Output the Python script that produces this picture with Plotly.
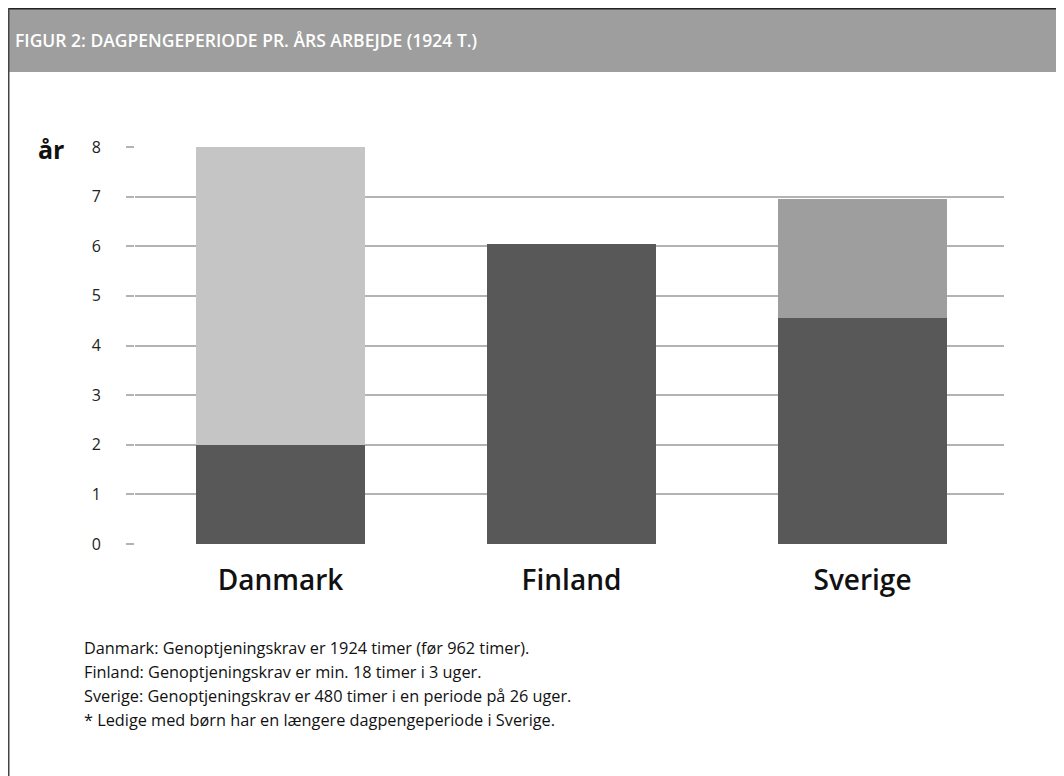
import plotly.graph_objects as go

categories = ["Danmark", "Finland", "Sverige"]
base_values = [2.0, 6.05, 4.55]
extra_values = [6.0, 0.0, 2.4]
base_color = "#585858"
extra_colors = ["#c4c5c4", "#c4c5c4", "#9d9e9d"]
y_ticks = [0, 1, 2, 3, 4, 5, 6, 7, 8]

title_text = "FIGUR 2: DAGPENGEPERIODE PR. ÅRS ARBEJDE (1924 T.)"
notes = [
    "Danmark: Genoptjeningskrav er 1924 timer (før 962 timer).",
    "Finland: Genoptjeningskrav er min. 18 timer i 3 uger.",
    "Sverige: Genoptjeningskrav er 480 timer i en periode på 26 uger.",
    "* Ledige med børn har en længere dagpengeperiode i Sverige.",
]

OFF = 8  # page body margin offset
W, H = 1064 - OFF, 776 - OFF
# plot area in reference pixels
RL, RR, RT, RB = 135, 1004, 146, 545
L, R, T, B = RL - OFF, RR - OFF, RT - OFF, RB - OFF
CAT_PX = 291.0  # pixel spacing of categories
x_range = [-0.5, -0.5 + (RR - RL) / CAT_PX]


def px(x):
    return (x - OFF - L) / (R - L)


def py(y):
    return (B - (y - OFF)) / (B - T)


fig = go.Figure()
fig.add_trace(go.Bar(x=categories, y=base_values, marker=dict(color=base_color, line=dict(width=0)),
                     width=0.58, hoverinfo="skip"))
fig.add_trace(go.Bar(x=categories, y=extra_values, marker=dict(color=extra_colors, line=dict(width=0)),
                     width=0.58, hoverinfo="skip"))

shapes = [
    dict(type="rect", xref="paper", yref="paper", x0=px(8), x1=px(1064), y0=py(72), y1=py(8),
         fillcolor="#9d9e9d", line=dict(width=0), layer="below"),
    dict(type="line", xref="paper", yref="paper", x0=px(8), x1=px(1064), y0=py(8.5), y1=py(8.5),
         line=dict(color="#222222", width=2)),
    dict(type="line", xref="paper", yref="paper", x0=px(8.5), x1=px(8.5), y0=py(8), y1=py(776),
         line=dict(color="#444444", width=2)),
]

annotations = [
    dict(text=title_text, xref="paper", yref="paper", x=px(13), y=py(40), xanchor="left", yanchor="middle",
         showarrow=False, font=dict(family="Open Sans", size=17.5, color="white", weight=600)),
    dict(text="år", xref="paper", yref="paper", x=px(36), y=py(149), xanchor="left", yanchor="middle",
         showarrow=False, font=dict(family="Open Sans", size=25, color="#111111", weight=700)),
]
for i, line in enumerate(notes):
    annotations.append(dict(text=line, xref="paper", yref="paper", x=px(82), y=py(648 + 24 * i),
                            xanchor="left", yanchor="middle", showarrow=False,
                            font=dict(family="Open Sans", size=16.3, color="#111111")))

fig.update_layout(
    width=W, height=H,
    barmode="stack",
    showlegend=False,
    paper_bgcolor="white",
    plot_bgcolor="white",
    margin=dict(l=L, r=W - R, t=T, b=H - B, pad=0),
    shapes=shapes,
    annotations=annotations,
    xaxis=dict(range=x_range, showgrid=False, showline=False, zeroline=False, ticks="",
               tickfont=dict(family="Open Sans", size=28, color="#111111", weight=600),
               ticklabelstandoff=16),
    yaxis=dict(range=[-0.02, 8.02], tickvals=y_ticks, showgrid=True, gridcolor="#b3b3b3", gridwidth=1.5,
               zeroline=False, showline=False, ticks="outside", ticklen=8, tickcolor="#b3b3b3",
               tickwidth=1.5,
               tickfont=dict(family="Open Sans", size=16, color="#222222"),
               ticklabelstandoff=22),
)

fig.write_html("out.html")
